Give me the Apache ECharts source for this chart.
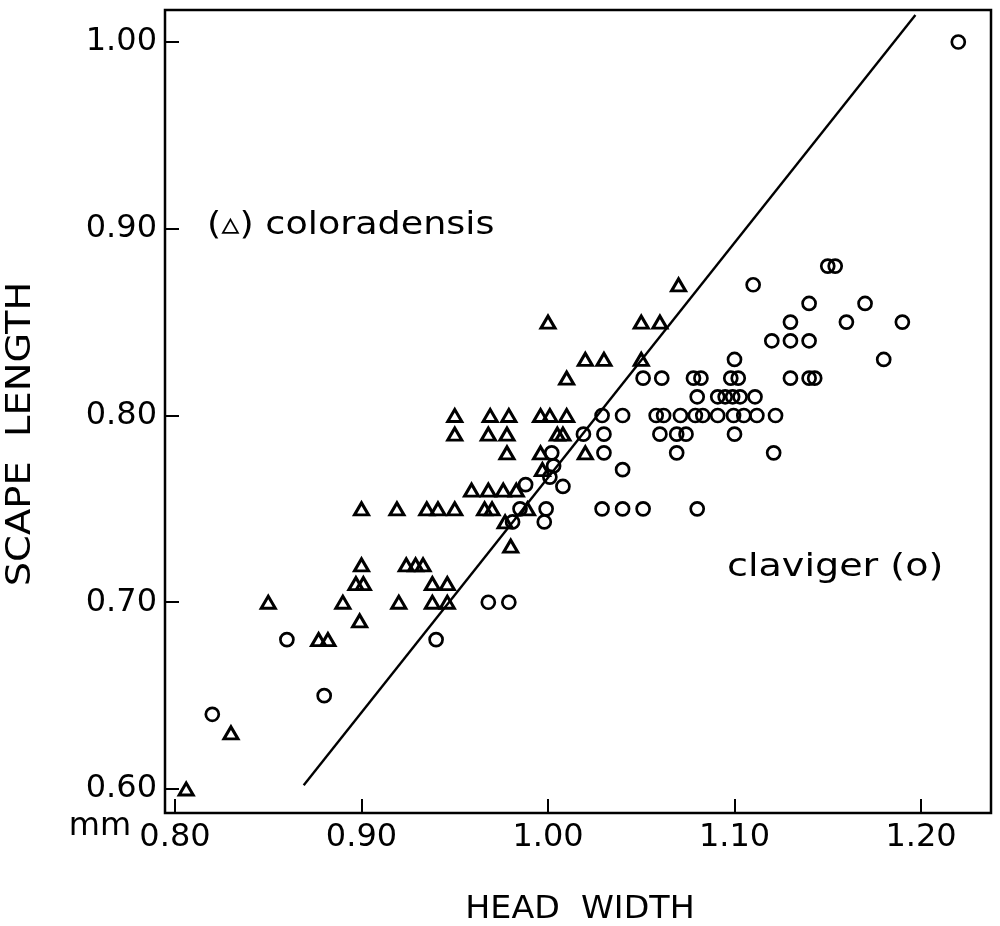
<!DOCTYPE html>
<html>
<head>
<meta charset="utf-8">
<script src="https://cdn.jsdelivr.net/npm/echarts@6/dist/echarts.min.js"></script>
<style>html,body{margin:0;padding:0;background:#fff}#chart{width:1000px;height:926px}</style>
</head>
<body>
<div id="chart"></div>
<script>
const xTicks = [0.80, 0.90, 1.00, 1.10, 1.20];
const yTicks = [0.60, 0.70, 0.80, 0.90, 1.00];

// coloradensis (triangles)
const coloHW = [0.806,0.83,0.85,0.877,0.882,0.89,0.899,0.897,0.901,0.90,0.90,0.92,0.919,0.924,0.929,0.933,0.935,0.941,0.938,0.946,0.938,0.946,0.95,0.95,0.95,0.959,0.968,0.976,0.983,0.966,0.970,0.989,0.969,0.979,0.968,0.978,0.978,0.977,0.980,0.996,1.001,1.01,1.005,1.008,0.996,0.997,1.02,1.01,1.02,1.03,1.05,1.00,1.05,1.06,1.07];
const coloSL = [0.60,0.63,0.70,0.68,0.68,0.70,0.69,0.71,0.71,0.72,0.75,0.70,0.75,0.72,0.72,0.72,0.75,0.75,0.71,0.71,0.70,0.70,0.75,0.80,0.79,0.76,0.76,0.76,0.76,0.75,0.75,0.75,0.80,0.80,0.79,0.79,0.78,0.743,0.73,0.80,0.80,0.80,0.79,0.79,0.78,0.771,0.78,0.82,0.83,0.83,0.83,0.85,0.85,0.85,0.87];

// claviger (circles)
const clavHW = [0.82,0.86,0.88,0.94,0.968,0.979,0.981,0.985,0.988,0.999,0.998,1.002,1.003,1.001,1.008,1.019,1.03,1.029,1.04,1.03,1.04,1.029,1.04,1.051,1.08,1.051,1.061,1.078,1.082,1.098,1.102,1.13,1.14,1.143,1.08,1.091,1.095,1.099,1.103,1.111,1.058,1.062,1.071,1.079,1.083,1.091,1.0995,1.105,1.112,1.122,1.06,1.069,1.074,1.10,1.069,1.121,1.10,1.18,1.12,1.13,1.14,1.13,1.16,1.19,1.14,1.17,1.11,1.15,1.154,1.22];
const clavSL = [0.64,0.68,0.65,0.68,0.70,0.70,0.743,0.75,0.763,0.75,0.743,0.78,0.773,0.767,0.762,0.79,0.79,0.80,0.80,0.78,0.771,0.75,0.75,0.75,0.75,0.82,0.82,0.82,0.82,0.82,0.82,0.82,0.82,0.82,0.81,0.81,0.81,0.81,0.81,0.81,0.80,0.80,0.80,0.80,0.80,0.80,0.80,0.80,0.80,0.80,0.79,0.79,0.79,0.79,0.78,0.78,0.83,0.83,0.84,0.84,0.84,0.85,0.85,0.85,0.86,0.86,0.87,0.88,0.88,1.00];

// fitted line end points
const lineHW = [0.869, 1.197];
const lineSL = [0.602, 1.0145];

const zip = (a, b) => a.map((v, i) => [v, b[i]]);
const FONT = '"DejaVu Sans", sans-serif';
const fmt = v => Number(v).toFixed(2);

const chart = echarts.init(document.getElementById('chart'), null, {renderer: 'canvas'});
chart.setOption({
  animation: false,
  backgroundColor: '#fff',
  grid: {left: 165, right: 9, top: 10, bottom: 113, show: true, borderColor: '#000', borderWidth: 2.5, backgroundColor: 'transparent'},
  xAxis: {
    type: 'value', min: 0.79464, max: 1.23753,
    axisLine: {show: false},
    splitLine: {show: false},
    axisTick: {show: true, inside: true, length: 14, customValues: xTicks, lineStyle: {color: '#000', width: 2}},
    axisLabel: {customValues: xTicks, formatter: fmt, fontSize: 32, fontFamily: FONT, color: '#000', margin: 9}
  },
  yAxis: {
    type: 'value', min: 0.58715, max: 1.01713,
    axisLine: {show: false},
    splitLine: {show: false},
    axisTick: {show: true, inside: true, length: 14, customValues: yTicks, lineStyle: {color: '#000', width: 2}},
    axisLabel: {customValues: yTicks, formatter: fmt, fontSize: 32, fontFamily: FONT, color: '#000', margin: 8}
  },
  series: [
    {
      type: 'line', data: zip(lineHW, lineSL), symbol: 'none', silent: true,
      lineStyle: {color: '#000', width: 2.4}, z: 1
    },
    {
      name: 'coloradensis', type: 'scatter', data: zip(coloHW, coloSL),
      symbol: 'triangle', symbolSize: [14, 12],
      itemStyle: {color: 'transparent', borderColor: '#000', borderWidth: 3, opacity: 1}, z: 2
    },
    {
      name: 'claviger', type: 'scatter', data: zip(clavHW, clavSL),
      symbol: 'circle', symbolSize: 13,
      itemStyle: {color: 'transparent', borderColor: '#000', borderWidth: 2.7, opacity: 1}, z: 2
    }
  ],
  graphic: [
    {type: 'text', x: 100, y: 827, style: {text: 'mm', font: '32px ' + FONT, fill: '#000', align: 'center', verticalAlign: 'middle', textAlign: 'center', textVerticalAlign: 'middle'}},
    {type: 'text', x: 580, y: 910, scaleX: 1.04, style: {text: 'HEAD  WIDTH', font: '32px ' + FONT, fill: '#000', align: 'center', verticalAlign: 'middle', textAlign: 'center', textVerticalAlign: 'middle'}},
    {type: 'text', x: 21, y: 434, rotation: Math.PI / 2, scaleX: 1.13, style: {text: 'SCAPE  LENGTH', font: '34px ' + FONT, fill: '#000', align: 'center', verticalAlign: 'middle', textAlign: 'center', textVerticalAlign: 'middle'}},
    {type: 'text', x: 207, y: 226, scaleX: 1.14, style: {text: '(\u25B5) coloradensis', font: '32px ' + FONT, fill: '#000', align: 'left', verticalAlign: 'middle', textAlign: 'left', textVerticalAlign: 'middle'}},
    {type: 'text', x: 727, y: 568, scaleX: 1.19, style: {text: 'claviger (o)', font: '32px ' + FONT, fill: '#000', align: 'left', verticalAlign: 'middle', textAlign: 'left', textVerticalAlign: 'middle'}}
  ]
});
</script>
</body>
</html>
